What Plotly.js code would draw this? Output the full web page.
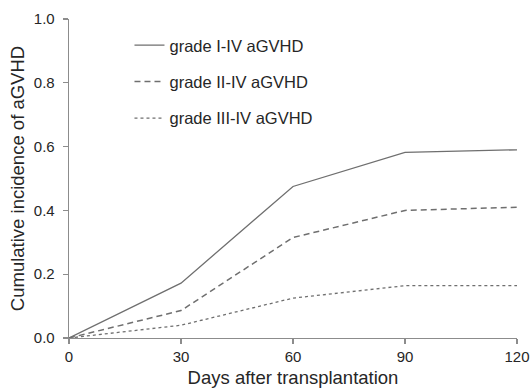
<!DOCTYPE html>
<html><head><meta charset="utf-8">
<script src="https://cdn.plot.ly/plotly-3.0.1.min.js"></script>
<style>html,body{margin:0;padding:0;background:#fff;}</style>
</head><body><div id="chart" style="width:532px;height:388px;"></div>
<script>
const days = [0, 30, 60, 90, 120];
const gradeI_IV = [0, 0.172, 0.475, 0.582, 0.59];
const gradeII_IV = [0, 0.086, 0.315, 0.40, 0.41];
const gradeIII_IV = [0, 0.04, 0.125, 0.164, 0.164];
const names = ['grade I-IV aGVHD', 'grade II-IV aGVHD', 'grade III-IV aGVHD'];
const lineColor = '#6f6f6f';
const fontFam = 'Liberation Sans, Arial, sans-serif';
const textColor = '#262626';
const traces = [
  {x: days, y: gradeI_IV, name: names[0], mode: 'lines', legendgroup: 'a', line: {color: lineColor, width: 1.3, dash: 'solid'}},
  {x: days, y: gradeII_IV, name: names[1], mode: 'lines', legendgroup: 'b', line: {color: lineColor, width: 1.5, dash: '6px,4px'}},
  {x: days, y: gradeIII_IV, name: names[2], mode: 'lines', legendgroup: 'c', line: {color: lineColor, width: 1.3, dash: 'dot'}}
];
const axisCommon = {
  showgrid: false, zeroline: false, showline: true, linecolor: '#8c8c8c', linewidth: 1.3,
  ticks: 'outside', ticklen: 5, tickcolor: '#8c8c8c', tickwidth: 1.3,
  tickfont: {family: fontFam, size: 15, color: textColor}
};
const layout = {
  width: 532, height: 388,
  margin: {l: 69, r: 15, t: 19, b: 50},
  paper_bgcolor: '#fff', plot_bgcolor: '#fff',
  showlegend: true,
  legend: {x: 0.135, y: 0.972, xanchor: 'left', yanchor: 'top', bgcolor: 'rgba(0,0,0,0)',
    font: {family: fontFam, size: 16.5, color: textColor},
    tracegroupgap: 12, itemwidth: 30},
  xaxis: Object.assign({}, axisCommon, {range: [0, 120], tickvals: [0, 30, 60, 90, 120],
    title: {text: 'Days after transplantation', standoff: 6, font: {family: fontFam, size: 18.5, color: textColor}}}),
  yaxis: Object.assign({}, axisCommon, {range: [0, 1], tickvals: [0, 0.2, 0.4, 0.6, 0.8, 1.0], tickformat: '.1f',
    ticklabelstandoff: 5,
    title: {text: 'Cumulative incidence of aGVHD', standoff: 4, font: {family: fontFam, size: 18.5, color: textColor}}})
};
Plotly.newPlot('chart', traces, layout, {displayModeBar: false, staticPlot: true});
</script></body></html>
